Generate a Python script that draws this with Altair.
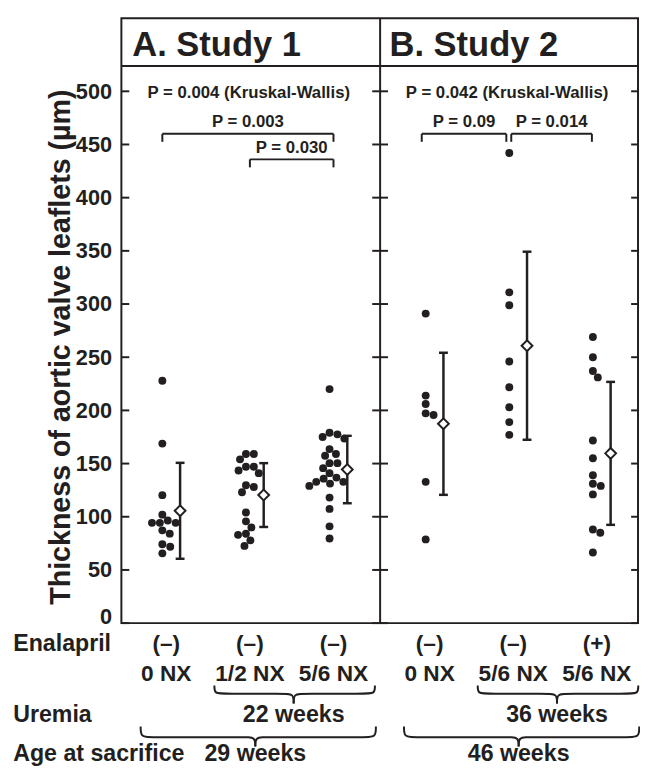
import altair as alt
import pandas as pd

# ---------------- data ----------------
studies = ["A. Study 1", "B. Study 2"]
group_study = [0, 0, 0, 1, 1, 1]
enalapril = ["(–)", "(–)", "(–)", "(–)", "(–)", "(+)"]
nephrectomy = ["0 NX", "1/2 NX", "5/6 NX", "0 NX", "5/6 NX", "5/6 NX"]

thickness_g1 = [227.9, 168.8, 120.3, 102.0, 96.5, 94.3, 94.3, 94.3, 87.2, 84.1, 74.2, 71.8, 65.6]
thickness_g2 = [159, 159, 154, 147, 147, 143.5, 141, 129.6, 128, 123, 104, 95.7, 90, 84, 83, 77.8, 72.6]
thickness_g3 = [220, 179, 177.5, 175, 173.5, 163.6, 159, 157.4, 150.4, 150.4, 145.7, 141, 136.8,
                135.8, 132.8, 132.8, 131.2, 129, 118, 107.4, 91, 79.6]
thickness_g4 = [291, 213.9, 206, 197.2, 195.7, 132.8, 78.7]
thickness_g5 = [442, 311, 298.8, 246, 221.7, 203, 189, 177]
thickness_g6 = [269, 250, 237, 231, 171.7, 155, 139, 131, 129, 121, 88, 85, 66.4]
thickness = [thickness_g1, thickness_g2, thickness_g3, thickness_g4, thickness_g5, thickness_g6]

group_mean = [105.6, 120.4, 144.4, 187.4, 260.8, 159.6]
group_sd = [45.1, 30.0, 31.7, 66.8, 88.4, 67.2]

kruskal_wallis = ["P = 0.004 (Kruskal-Wallis)", "P = 0.042 (Kruskal-Wallis)"]
pair_from = [0, 1, 3, 4]
pair_to = [2, 2, 4, 5]
pair_p = ["P = 0.003", "P = 0.030", "P = 0.09", "P = 0.014"]
pair_level = [460.0, 436.0, 460.0, 460.0]

uremia_weeks = ["22 weeks", "36 weeks"]
age_weeks = ["29 weeks", "46 weeks"]
row_labels = ["Enalapril", "Uremia", "Age at sacrifice"]
y_ticks = [0, 50, 100, 150, 200, 250, 300, 350, 400, 450, 500]
y_title = "Thickness of aortic valve leaflets (µm)"

# ---------------- layout ----------------
INK = "#231f20"
W, H = 524, 613.4
YMAX = 568.6
XMAX = 6.18
U = W / XMAX          # px per x unit
KY = H / YMAX         # px per y unit
DIV = 3.095
group_x = [0.49, 1.49, 2.49, 3.64, 4.64, 5.64]
MEAN_DX = 18 / U
FONT = "Liberation Sans"


def px(n):
    return n / U


def swarm(vals, d=8.0):
    placed, offs = [], []
    for v in vals:
        yp = v * KY
        cands = [0.0]
        for k in range(1, 80):
            cands += [k * 0.5, -k * 0.5]
        for c in cands:
            if all((c - a) ** 2 + (yp - b) ** 2 >= d * d for a, b in placed):
                break
        placed.append((c, yp))
        offs.append(c)
    return offs


dot_rows = []
for i, vals in enumerate(thickness):
    for v, o in zip(vals, swarm(vals)):
        dot_rows.append({"x": group_x[i] + px(o), "y": v, "g": nephrectomy[i]})
dots_df = pd.DataFrame(dot_rows)

err_rows = []
for i in range(6):
    xm = group_x[i] + MEAN_DX
    err_rows.append({"x": xm, "mean": group_mean[i],
                     "lo": group_mean[i] - group_sd[i], "hi": group_mean[i] + group_sd[i],
                     "cl": xm - px(4.5), "cr": xm + px(4.5)})
err_df = pd.DataFrame(err_rows)

# frame ticks (inward)
tick_rows = []
for v in y_ticks:
    tick_rows.append({"x": 0, "x2": px(8), "y": v})
    tick_rows.append({"x": DIV - px(8), "x2": DIV + px(8), "y": v})
    tick_rows.append({"x": XMAX - px(7), "x2": XMAX, "y": v})
ticks_df = pd.DataFrame(tick_rows)

lines_df = pd.DataFrame([
    {"x": DIV, "x2": DIV, "y": 0, "y2": YMAX},
    {"x": 0, "x2": XMAX, "y": 523.8, "y2": 523.8},
])

# brackets
nudges = [(0, 4), (4, 4), (-4, -3), (2, -1)]
br_rows, br_text = [], []
for k in range(4):
    xa = group_x[pair_from[k]] + px(nudges[k][0])
    xb = group_x[pair_to[k]] + px(nudges[k][1])
    lv = pair_level[k]
    br_rows.append({"x": xa, "x2": xb, "y": lv, "y2": lv})
    br_rows.append({"x": xa, "x2": xa, "y": lv, "y2": lv - 7.5})
    br_rows.append({"x": xb, "x2": xb, "y": lv, "y2": lv - 7.5})
    br_text.append({"x": (xa + xb) / 2, "y": lv + 10.8, "t": pair_p[k]})
br_df = pd.DataFrame(br_rows)
br_text_df = pd.DataFrame(br_text)

half_centers = [DIV / 2, (DIV + XMAX) / 2]
top_text_df = pd.DataFrame([{"x": half_centers[s] - px(2), "y": 498.0, "t": kruskal_wallis[s]} for s in range(2)])
title_df = pd.DataFrame([{"x": [px(11), DIV + px(9.5)][s], "y": 533.5, "t": studies[s]} for s in range(2)])

# bottom labels
ROW_Y = [-19.5, -47.8, -86.5, -123.6]
lab_rows = []
for i in range(6):
    lx = group_x[i] + px(4)
    lab_rows.append({"x": lx, "y": ROW_Y[0], "t": enalapril[i]})
    lab_rows.append({"x": lx, "y": ROW_Y[1], "t": nephrectomy[i]})
lab_df = pd.DataFrame(lab_rows)
row_df = pd.DataFrame([{"x": px(13.3 - 123), "y": y, "t": t}
                       for t, y in zip(row_labels, [ROW_Y[0], ROW_Y[2], ROW_Y[3]])])


def brace(x0, x1, xt, ytop, ymid, ytip, key):
    r = px(10)
    left = [(x0, ytop), (x0, ymid), (x0 + r, ymid), (xt - r, ymid), (xt, ymid), (xt, ytip)]
    right = [(x1, ytop), (x1, ymid), (x1 - r, ymid), (xt + r, ymid), (xt, ymid), (xt, ytip)]
    out = []
    for side, pts in (("L", left), ("R", right)):
        for j, (a, b) in enumerate(pts):
            out.append({"x": a, "y": b, "seg": key + side, "o": j})
    return out


brace_rows, week_rows = [], []
for s in range(2):
    g0, g2 = 3 * s, 3 * s + 2
    x0 = group_x[g0 + 1] - px(32)
    x1 = group_x[g2] + px(46)
    xt = (x0 + x1) / 2 - px(1)
    brace_rows += brace(x0, x1, xt, -58.7, -66.4, -75.6, f"u{s}")
    week_rows.append({"x": xt, "y": ROW_Y[2], "t": uremia_weeks[s]})
    x0 = group_x[g0] - px(22)
    x1 = group_x[g2] + px(47)
    xt = (x0 + x1) / 2 - px(3)
    brace_rows += brace(x0, x1, xt, -97.3, -107.2, -115.9, f"a{s}")
    week_rows.append({"x": xt, "y": ROW_Y[3], "t": age_weeks[s]})
brace_df = pd.DataFrame(brace_rows)
week_df = pd.DataFrame(week_rows)

# ---------------- chart ----------------
xs = alt.Scale(domain=[0, XMAX], nice=False, zero=False)
ys = alt.Scale(domain=[0, YMAX], nice=False, zero=False)
y_axis = alt.Axis(
    values=y_ticks, ticks=False, tickSize=0, domain=False, grid=False,
    labelFont=FONT, labelFontSize=22, labelFontWeight="bold", labelColor=INK, labelPadding=10,
    labelBaseline={"condition": {"test": "datum.value === 0", "value": "alphabetic"}, "value": "middle"},
    title=y_title, titleFont=FONT, titleFontSize=29, titleFontWeight="bold", titleColor=INK,
    titleAngle=-90, titleX=-53, titleY=333, titleAlign="center", titleBaseline="alphabetic")


def X(f="x"):
    return alt.X(f"{f}:Q", scale=xs, axis=None)


def Y(f="y"):
    return alt.Y(f"{f}:Q", scale=ys, axis=y_axis)


dots = alt.Chart(dots_df).mark_circle(size=64, color=INK, opacity=1).encode(x=X(), y=Y())

frame_ticks = alt.Chart(ticks_df).mark_rule(color=INK, strokeWidth=2).encode(x=X(), x2="x2:Q", y=Y())
frame_lines = alt.Chart(lines_df).mark_rule(color=INK, strokeWidth=2).encode(x=X(), x2="x2:Q", y=Y(), y2="y2:Q")

err_rule = alt.Chart(err_df).mark_rule(color=INK, strokeWidth=2.5).encode(x=X(), y=Y("lo"), y2="hi:Q")
cap_lo = alt.Chart(err_df).mark_rule(color=INK, strokeWidth=2.5).encode(x=X("cl"), x2="cr:Q", y=Y("lo"))
cap_hi = alt.Chart(err_df).mark_rule(color=INK, strokeWidth=2.5).encode(x=X("cl"), x2="cr:Q", y=Y("hi"))
diamonds = alt.Chart(err_df).mark_point(shape="diamond", filled=True, fill="white", stroke=INK,
                                        strokeWidth=2, size=120, opacity=1).encode(x=X(), y=Y("mean"))

brackets = alt.Chart(br_df).mark_rule(color=INK, strokeWidth=2).encode(x=X(), x2="x2:Q", y=Y(), y2="y2:Q")
bracket_txt = alt.Chart(br_text_df).mark_text(font=FONT, fontSize=17, fontWeight="bold", color=INK,
                                               baseline="middle").encode(x=X(), y=Y(), text="t:N")
kw_txt = alt.Chart(top_text_df).mark_text(font=FONT, fontSize=17, fontWeight="bold", color=INK,
                                          baseline="middle").encode(x=X(), y=Y(), text="t:N")
titles = alt.Chart(title_df).mark_text(font=FONT, fontSize=35, fontWeight="bold", color=INK,
                                       align="left", baseline="alphabetic").encode(x=X(), y=Y(), text="t:N")

labels = alt.Chart(lab_df).mark_text(font=FONT, fontSize=23, fontWeight="bold", color=INK,
                                     baseline="middle").encode(x=X(), y=Y(), text="t:N")
rows = alt.Chart(row_df).mark_text(font=FONT, fontSize=23.5, fontWeight="bold", color=INK,
                                   align="left", baseline="middle").encode(x=X(), y=Y(), text="t:N")
weeks = alt.Chart(week_df).mark_text(font=FONT, fontSize=23.5, fontWeight="bold", color=INK,
                                     baseline="middle").encode(x=X(), y=Y(), text="t:N")
braces = alt.Chart(brace_df).mark_line(color=INK, strokeWidth=2, interpolate="basis").encode(
    x=X(), y=Y(), detail="seg:N", order="o:Q")

chart = alt.layer(
    dots, frame_ticks, frame_lines, err_rule, cap_lo, cap_hi, diamonds,
    brackets, bracket_txt, kw_txt, titles, labels, rows, weeks, braces,
).properties(
    width=W, height=H,
    background="white",
    autosize=alt.AutoSizeParams(type="none"),
    padding={"left": 115, "top": 5, "right": 2, "bottom": 152},
).configure_view(stroke=INK, strokeWidth=2)

chart.save("out.html", embed_options={"renderer": "svg", "actions": False})
